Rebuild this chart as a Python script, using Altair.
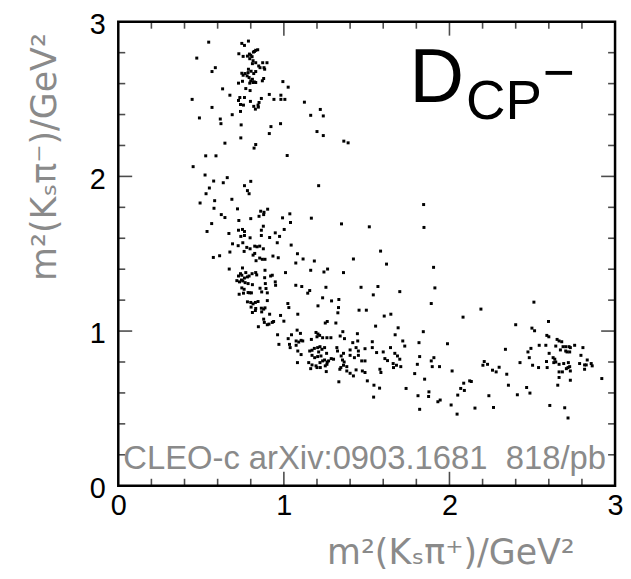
import altair as alt
import pandas as pd

# ---- data: (m2(Ks pi+), m2(Ks pi-)) in GeV^2 ----
band_upper = [
(0.546,2.868),(0.746,2.860),(0.762,2.847),(0.786,2.875),(0.474,2.765),(0.728,2.793),(0.754,2.776),(0.780,2.778),
(0.792,2.791),(0.800,2.783),(0.808,2.774),(0.822,2.808),(0.830,2.815),(0.842,2.819),(0.816,2.804),(0.794,2.761),
(0.814,2.748),(0.810,2.729),(0.830,2.735),(0.872,2.735),(0.898,2.735),(0.848,2.714),(0.856,2.703),(0.880,2.703),
(0.884,2.693),(0.586,2.703),(0.566,2.678),(0.786,2.693),(0.802,2.680),(0.784,2.671),(0.746,2.667),(0.754,2.654),
(0.766,2.665),(0.778,2.650),(0.818,2.665),(0.830,2.678),(0.790,2.639),(0.810,2.628),(0.800,2.618),(0.822,2.611),
(0.830,2.607),(0.750,2.615),(0.726,2.603),(0.870,2.618),(0.878,2.633),(0.794,2.603),(0.814,2.607),(0.994,2.613),
(0.630,2.566),(0.770,2.568),(0.796,2.555),(0.674,2.525),(0.912,2.530),(0.982,2.525),(0.446,2.498),(0.734,2.510),
(0.762,2.510),(0.726,2.491),(0.798,2.485),(0.864,2.504),(0.940,2.498),(0.982,2.498),(1.006,2.498),(0.738,2.465),
(0.756,2.461),(0.818,2.453),(0.850,2.478),(0.844,2.461),(0.846,2.448),(0.828,2.435),(0.566,2.446),(0.738,2.420),
(0.490,2.378),(0.688,2.399),(0.616,2.371),(0.620,2.341),(0.742,2.333),(0.922,2.322),(0.980,2.341),(0.740,2.249),
(0.912,2.277),(0.644,2.215),(0.830,2.206),(0.820,2.183),(0.528,2.133),(0.590,2.133),(0.452,2.063),(0.524,2.009),
(0.658,1.992),(1.026,2.577),(1.124,2.480),(1.220,2.433),(1.162,2.395),(1.238,2.391),(1.200,2.290),(1.238,2.264),
(1.362,2.228),(1.388,2.217),(1.020,2.135),
]

band_left = [
(0.576,1.970),(0.634,1.959),(0.800,1.968),(0.762,1.940),(0.780,1.908),(0.790,1.888),(0.550,1.925),(0.530,1.888),
(0.494,1.828),(0.582,1.843),(0.686,1.852),(0.578,1.794),(0.720,1.790),(0.622,1.753),(0.644,1.734),(0.860,1.775),
(0.880,1.768),(0.902,1.788),(0.850,1.742),(0.878,1.753),(0.992,1.732),(0.728,1.715),(0.800,1.727),(0.564,1.695),
(0.536,1.644),(0.726,1.652),(0.750,1.657),(0.762,1.644),(0.740,1.612),(0.762,1.618),(0.796,1.603),(0.864,1.652),
(0.876,1.678),(0.864,1.618),(0.914,1.605),(0.948,1.635),(0.974,1.612),(0.960,1.571),(1.002,1.657),(0.668,1.631),
(0.690,1.564),(0.724,1.552),(0.752,1.571),(0.760,1.515),(0.776,1.541),(0.796,1.532),(0.824,1.549),(0.838,1.545),
(0.854,1.549),(0.876,1.532),(0.814,1.491),(0.824,1.502),(0.854,1.472),(0.870,1.464),(0.886,1.464),(0.832,1.455),
(0.934,1.485),(0.966,1.474),(0.674,1.511),(0.574,1.476),(0.612,1.487),(0.670,1.401),(0.750,1.408),(0.738,1.371),
(0.770,1.378),(0.746,1.361),(0.726,1.356),(0.762,1.343),(0.716,1.326),(0.732,1.318),(0.744,1.330),(0.752,1.324),
(0.766,1.313),(0.780,1.350),(0.790,1.356),(0.808,1.371),(0.830,1.378),(0.836,1.363),(0.886,1.393),(0.920,1.356),
(0.930,1.361),(0.884,1.345),(1.010,1.378),(0.746,1.279),(0.760,1.270),(0.784,1.307),(0.810,1.300),(0.856,1.277),
(0.866,1.253),(0.888,1.307),(0.892,1.275),(0.900,1.247),(0.948,1.318),(0.950,1.296),(0.730,1.238),(0.756,1.245),
(0.784,1.249),(0.794,1.247),(0.804,1.247),(0.780,1.189),(0.800,1.185),(0.814,1.176),(0.828,1.185),(0.844,1.191),
(0.802,1.155),(0.830,1.146),(0.864,1.148),(0.878,1.142),(0.900,1.197),(0.810,1.120),(0.828,1.133),(0.866,1.124),
(0.886,1.150),(0.914,1.109),(0.980,1.101),(1.000,1.064),(0.878,1.077),(0.882,1.056),(0.900,1.041),(0.910,1.045),
(0.930,1.056),(0.938,1.062),(0.846,1.028),(0.962,0.976),(0.970,0.914),
]

band_middle = [
(1.210,1.940),(1.844,1.818),(1.036,1.758),(1.166,1.730),(1.040,1.702),(1.348,1.693),(1.516,1.674),(1.846,1.670),
(1.044,1.556),(1.082,1.500),(1.116,1.466),(1.072,1.440),(1.184,1.453),(1.420,1.466),(1.584,1.517),(1.620,1.433),
(1.904,1.412),(1.162,1.393),(1.242,1.382),(1.264,1.401),(1.360,1.378),(1.072,1.296),(1.108,1.288),(1.156,1.262),
(1.144,1.245),(1.254,1.283),(1.466,1.283),(1.568,1.288),(1.540,1.234),(1.700,1.255),(1.912,1.279),(1.024,1.178),
(1.030,1.152),(1.234,1.215),(1.288,1.195),(1.332,1.204),(1.206,1.163),(1.330,1.152),(1.326,1.118),(1.084,1.109),
(1.454,1.135),(1.498,1.135),(1.606,1.097),(1.646,1.109),(1.890,1.178),(1.250,1.052),(1.262,1.062),(1.314,1.052),
(1.554,1.032),(1.690,1.021),(1.080,1.006),(1.100,0.985),(1.046,0.976),(1.194,0.991),(1.206,0.981),(1.356,0.996),
(1.444,0.983),(1.672,0.976),(1.842,0.996),
]

band_lower = [
(1.026,0.951),(1.034,0.914),(1.038,0.893),(1.074,0.936),(1.090,0.929),(1.104,0.940),(1.114,0.936),(1.166,0.946),
(1.200,0.963),(1.216,0.972),(1.234,0.957),(1.260,0.957),(1.284,0.957),(1.340,0.968),(1.366,0.951),(1.416,0.925),
(1.446,0.936),(1.534,0.931),(1.718,0.936),(1.730,0.903),(1.816,0.925),(1.988,0.918),(1.074,0.908),(1.084,0.871),
(1.104,0.848),(1.156,0.871),(1.170,0.876),(1.184,0.888),(1.204,0.893),(1.218,0.899),(1.230,0.882),(1.246,0.893),
(1.210,0.865),(1.170,0.843),(1.186,0.828),(1.204,0.835),(1.224,0.839),(1.258,0.856),(1.320,0.893),(1.324,0.871),
(1.346,0.839),(1.360,0.856),(1.400,0.878),(1.436,0.893),(1.450,0.871),(1.490,0.886),(1.450,0.843),(1.426,0.828),
(1.400,0.843),(1.534,0.893),(1.560,0.861),(1.600,0.865),(1.644,0.893),(1.670,0.856),(1.686,0.839),(1.700,0.818),
(1.660,0.790),(1.662,0.764),(1.680,0.779),(1.706,0.770),(1.610,0.822),(1.626,0.809),(1.820,0.835),(1.890,0.807),
(1.906,0.828),(1.896,0.770),(1.940,0.770),(2.016,0.742),(1.082,0.796),(1.150,0.796),(1.170,0.781),(1.162,0.757),
(1.194,0.775),(1.218,0.796),(1.234,0.807),(1.246,0.813),(1.262,0.800),(1.260,0.785),(1.286,0.822),(1.300,0.818),
(1.270,0.807),(1.250,0.775),(1.220,0.764),(1.200,0.764),(1.256,0.738),(1.354,0.813),(1.364,0.800),(1.360,0.779),
(1.380,0.770),(1.344,0.764),(1.338,0.753),(1.380,0.742),(1.400,0.727),(1.420,0.710),(1.436,0.749),(1.470,0.807),
(1.490,0.807),(1.474,0.742),(1.490,0.732),(1.504,0.678),(1.580,0.753),(1.586,0.732),(1.332,0.672),(1.544,0.650),
(1.578,0.631),(1.542,0.573),(1.738,0.629),(1.790,0.725),(1.806,0.785),(1.850,0.689),(1.810,0.582),(1.876,0.607),
(1.874,0.577),(1.930,0.543),(1.944,0.554),(2.010,0.522),(1.820,0.494),
]

band_right = [
(2.510,1.187),(2.190,1.142),(2.082,1.090),(2.400,1.041),(2.598,1.062),(2.498,1.019),(2.514,1.002),(2.588,0.972),
(2.600,0.963),(2.650,0.946),(2.662,0.936),(2.678,0.931),(2.642,0.903),(2.686,0.899),(2.702,0.899),(2.722,0.899),
(2.730,0.893),(2.756,0.908),(2.806,0.893),(2.670,0.878),(2.702,0.871),(2.710,0.865),(2.726,0.865),(2.542,0.908),
(2.582,0.908),(2.492,0.888),(2.474,0.865),(2.482,0.828),(2.502,0.779),(2.538,0.764),(2.590,0.764),(2.602,0.856),
(2.626,0.828),(2.636,0.818),(2.586,0.803),(2.630,0.796),(2.642,0.800),(2.662,0.785),(2.690,0.790),(2.718,0.796),
(2.716,0.764),(2.706,0.757),(2.726,0.770),(2.730,0.742),(2.662,0.736),(2.682,0.736),(2.662,0.700),(2.654,0.650),
(2.730,0.682),(2.794,0.843),(2.786,0.790),(2.816,0.781),(2.826,0.781),(2.832,0.813),(2.856,0.790),(2.862,0.775),
(2.816,0.753),(2.920,0.693),(2.426,0.796),(2.338,0.882),(2.346,0.721),(2.356,0.650),(2.202,0.779),(2.210,0.803),
(2.230,0.785),(2.260,0.747),(2.282,0.736),(2.300,0.766),(2.122,0.678),(2.132,0.674),(2.086,0.663),(2.068,0.629),
(2.090,0.616),(2.050,0.586),(2.046,0.463),(2.154,0.502),(2.238,0.582),(2.266,0.506),(2.410,0.588),(2.466,0.635),
(2.486,0.599),(2.606,0.519),(2.696,0.504),(2.716,0.438),
]

axis_labels = [0, 1, 2, 3]
minor_ticks = [0.2, 0.4, 0.6, 0.8, 1.2, 1.4, 1.6, 1.8, 2.2, 2.4, 2.6, 2.8]
major_ticks = [1, 2]

x_title = "m\u00b2(K\u209b\u03c0\u207a)/GeV\u00b2"
y_title = "m\u00b2(K\u209b\u03c0\u207b)/GeV\u00b2"
texts = pd.DataFrame({
    "x": [1.758, 2.10, 2.565, 0.03],
    "y": [2.48, 2.37, 2.55, 0.11],
    "t": ["D", "CP", "\u2212", "CLEO-c arXiv:0903.1681\u00a0\u00a0818/pb"],
    "kind": ["big", "sub", "sub", "note"],
})

# ---- chart ----
W, H = 500, 467
pts = pd.DataFrame(band_upper + band_left + band_middle + band_lower + band_right, columns=["mp", "mm"])
xs = alt.Scale(domain=[0, 3], nice=False, zero=False)
ys = alt.Scale(domain=[0, 3], nice=False, zero=False)

axis_common = dict(values=axis_labels, ticks=False, domain=False, grid=False, labelFlush=False,
                   labelFont="Liberation Sans", labelFontSize=29, labelColor="black",
                   titleFont="DejaVu Sans", titleFontWeight="normal", titleFontSize=35,
                   titleColor="#8a8a8a")
XAX = alt.Axis(title=x_title, labelPadding=6, titleAlign="right", titleBaseline="middle",
               titleX=459, titleY=67, **axis_common)
YAX = alt.Axis(title=y_title, labelPadding=13, labelOffset=3, titleAngle=270, titleAlign="right",
               titleBaseline="middle", titleX=-74, titleY=11, **axis_common)


def X(f):
    return alt.X(f, type="quantitative", scale=xs, axis=XAX)


def Y(f):
    return alt.Y(f, type="quantitative", scale=ys, axis=YAX)


points = alt.Chart(pts).mark_square(size=9, color="black", opacity=1).encode(x=X("mp"), y=Y("mm"))

tminor = pd.DataFrame({"v": minor_ticks})
tmajor = pd.DataFrame({"v": major_ticks})


def xt(df, L, bottom):
    return alt.Chart(df).mark_tick(orient="vertical", size=L, thickness=1.6, color="black",
                                   yOffset=(-L / 2 if bottom else L / 2)).encode(
        x=X("v"), y=alt.value(H if bottom else 0))


def yt(df, L, left):
    return alt.Chart(df).mark_tick(orient="horizontal", size=L, thickness=1.6, color="black",
                                   xOffset=(L / 2 if left else -L / 2)).encode(
        y=Y("v"), x=alt.value(0 if left else W))


ticks = [xt(tminor, 7, True), xt(tminor, 7, False), xt(tmajor, 14, True), xt(tmajor, 14, False),
         yt(tminor, 7, True), yt(tminor, 7, False), yt(tmajor, 14, True), yt(tmajor, 14, False)]


def label(kind, size, color):
    return alt.Chart(texts[texts.kind == kind]).mark_text(
        align="left", baseline="alphabetic", font="Liberation Sans", fontSize=size, color=color).encode(
        x=X("x"), y=Y("y"), text="t:N")


chart = alt.layer(
    points, *ticks,
    label("big", 76, "black"), label("sub", 55, "black"), label("note", 33, "#8a8a8a"),
).properties(
    width=W, height=H, autosize="none",
    padding={"left": 111, "top": 12, "right": 8, "bottom": 84},
).configure_view(stroke="black", strokeWidth=2.5)

chart.save("out.html", embed_options={"renderer": "svg", "actions": False})
